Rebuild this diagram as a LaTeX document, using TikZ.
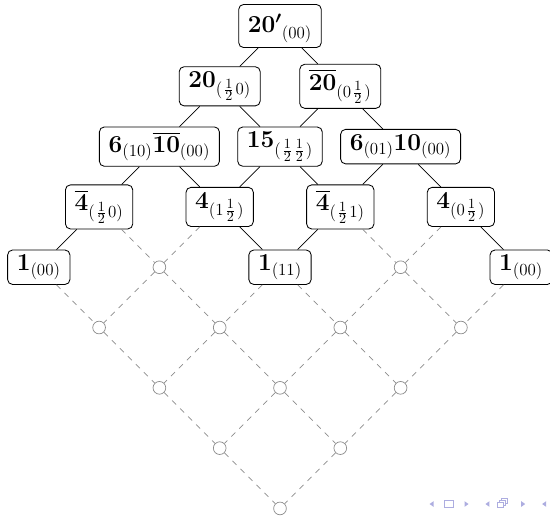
\documentclass[tikz,border=0pt]{standalone}
\usepackage{amsmath,bm}
\definecolor{navcol}{RGB}{173,173,224}
\definecolor{latgray}{RGB}{140,140,140}
% half-weight label with a little air on both sides
\newcommand{\hw}{\mkern1.5mu\frac12\mkern1.5mu}
\begin{document}
\begin{tikzpicture}[
  box/.style={draw, line width=0.6pt, rounded corners=3.5pt, fill=white,
    inner xsep=6.5pt, inner ysep=3.6pt,
    font=\fontsize{17.28}{21}\selectfont},
  ring/.style={circle, draw=latgray, fill=white, minimum size=9pt,
    inner sep=0pt, line width=0.5pt},
  tree/.style={line width=0.5pt},
  lat/.style={latgray, line width=0.5pt, dash pattern=on 4pt off 4pt},
  navtri/.style={fill=navcol, draw=none},
  navbox/.style={draw=navcol, fill=white, line width=0.45pt}
]
\useasboundingbox (-6.965,0.647) rectangle (6.716,-12.164);

% weight diagram: boxed representations
\node[box] (r0a) at (0,0) {${\bm{20'}}^{\vphantom{1}}_{(00)}$};
\node[box] (r1a) at (-1.5,-1.5) {$\mathbf{20}_{(\hw 0)}$};
\node[box] (r1b) at (1.5,-1.5) {$\overline{\mathbf{20}}_{(0\hw)}$};
\node[box] (r2a) at (-3,-3) {$\mathbf{6}_{(10)}\overline{\mathbf{10}}_{(00)}$};
\node[box] (r2b) at (0,-3) {$\mathbf{15}_{(\hw\frac12\mkern1.5mu)}$};
\node[box] (r2c) at (3,-3) {$\mathbf{6}_{(01)}\mathbf{10}_{(00)}$};
\node[box] (r3a) at (-4.5,-4.5) {$\overline{\mathbf{4}}_{(\hw 0)}$};
\node[box] (r3b) at (-1.5,-4.5) {$\mathbf{4}_{(1\hw)}$};
\node[box] (r3c) at (1.5,-4.5) {$\overline{\mathbf{4}}_{(\hw 1)}$};
\node[box] (r3d) at (4.5,-4.5) {$\mathbf{4}_{(0\hw)}$};
\node[box] (r4a) at (-6,-6) {$\mathbf{1}_{(00)}$};
\node[box] (r4c) at (0,-6) {$\mathbf{1}_{(11)}$};
\node[box] (r4e) at (6,-6) {$\mathbf{1}_{(00)}$};

% empty lattice sites
\node[ring] (r4b) at (-3,-6) {};
\node[ring] (r4d) at (3,-6) {};
\node[ring] (r5a) at (-4.5,-7.5) {};
\node[ring] (r5b) at (-1.5,-7.5) {};
\node[ring] (r5c) at (1.5,-7.5) {};
\node[ring] (r5d) at (4.5,-7.5) {};
\node[ring] (r6a) at (-3,-9) {};
\node[ring] (r6b) at (0,-9) {};
\node[ring] (r6c) at (3,-9) {};
\node[ring] (r7a) at (-1.5,-10.5) {};
\node[ring] (r7b) at (1.5,-10.5) {};
\node[ring] (r8a) at (0,-12) {};

% solid branches between occupied sites
\foreach \u/\v in {r0a/r1a, r0a/r1b, r1a/r2a, r1a/r2b, r1b/r2b, r1b/r2c,
  r2a/r3a, r2a/r3b, r2b/r3b, r2b/r3c, r2c/r3c, r2c/r3d,
  r3a/r4a, r3b/r4c, r3c/r4c, r3d/r4e}
  \draw[tree] (\u) -- (\v);

% dashed lattice links
\foreach \u/\v in {r3a/r4b, r3b/r4b, r3c/r4d, r3d/r4d,
  r4a/r5a, r4b/r5a, r4b/r5b, r4c/r5b, r4c/r5c, r4d/r5c, r4d/r5d, r4e/r5d,
  r5a/r6a, r5b/r6a, r5b/r6b, r5c/r6b, r5c/r6c, r5d/r6c,
  r6a/r7a, r6b/r7a, r6b/r7b, r6c/r7b, r7a/r8a, r7b/r8a}
  \draw[lat] (\u) -- (\v);

% navigation symbols
\begin{scope}[shift={(0,-11.89)}]
  \fill[navtri] (3.72,0) -- (3.82,0.07) -- (3.82,-0.07) -- cycle;
  \draw[navbox] (4.09,-0.07) rectangle (4.31,0.08);
  \fill[navtri] (4.69,0) -- (4.59,0.07) -- (4.59,-0.07) -- cycle;
  \fill[navtri] (5.11,0) -- (5.21,0.07) -- (5.21,-0.07) -- cycle;
  \draw[navbox] (5.50,0.02) rectangle (5.66,0.15);
  \draw[navbox] (5.45,-0.03) rectangle (5.61,0.10);
  \draw[navbox] (5.40,-0.08) rectangle (5.56,0.05);
  \fill[navtri] (6.10,0) -- (6.00,0.07) -- (6.00,-0.07) -- cycle;
  \fill[navtri] (6.52,0) -- (6.62,0.07) -- (6.62,-0.07) -- cycle;
\end{scope}
\end{tikzpicture}
\end{document}
